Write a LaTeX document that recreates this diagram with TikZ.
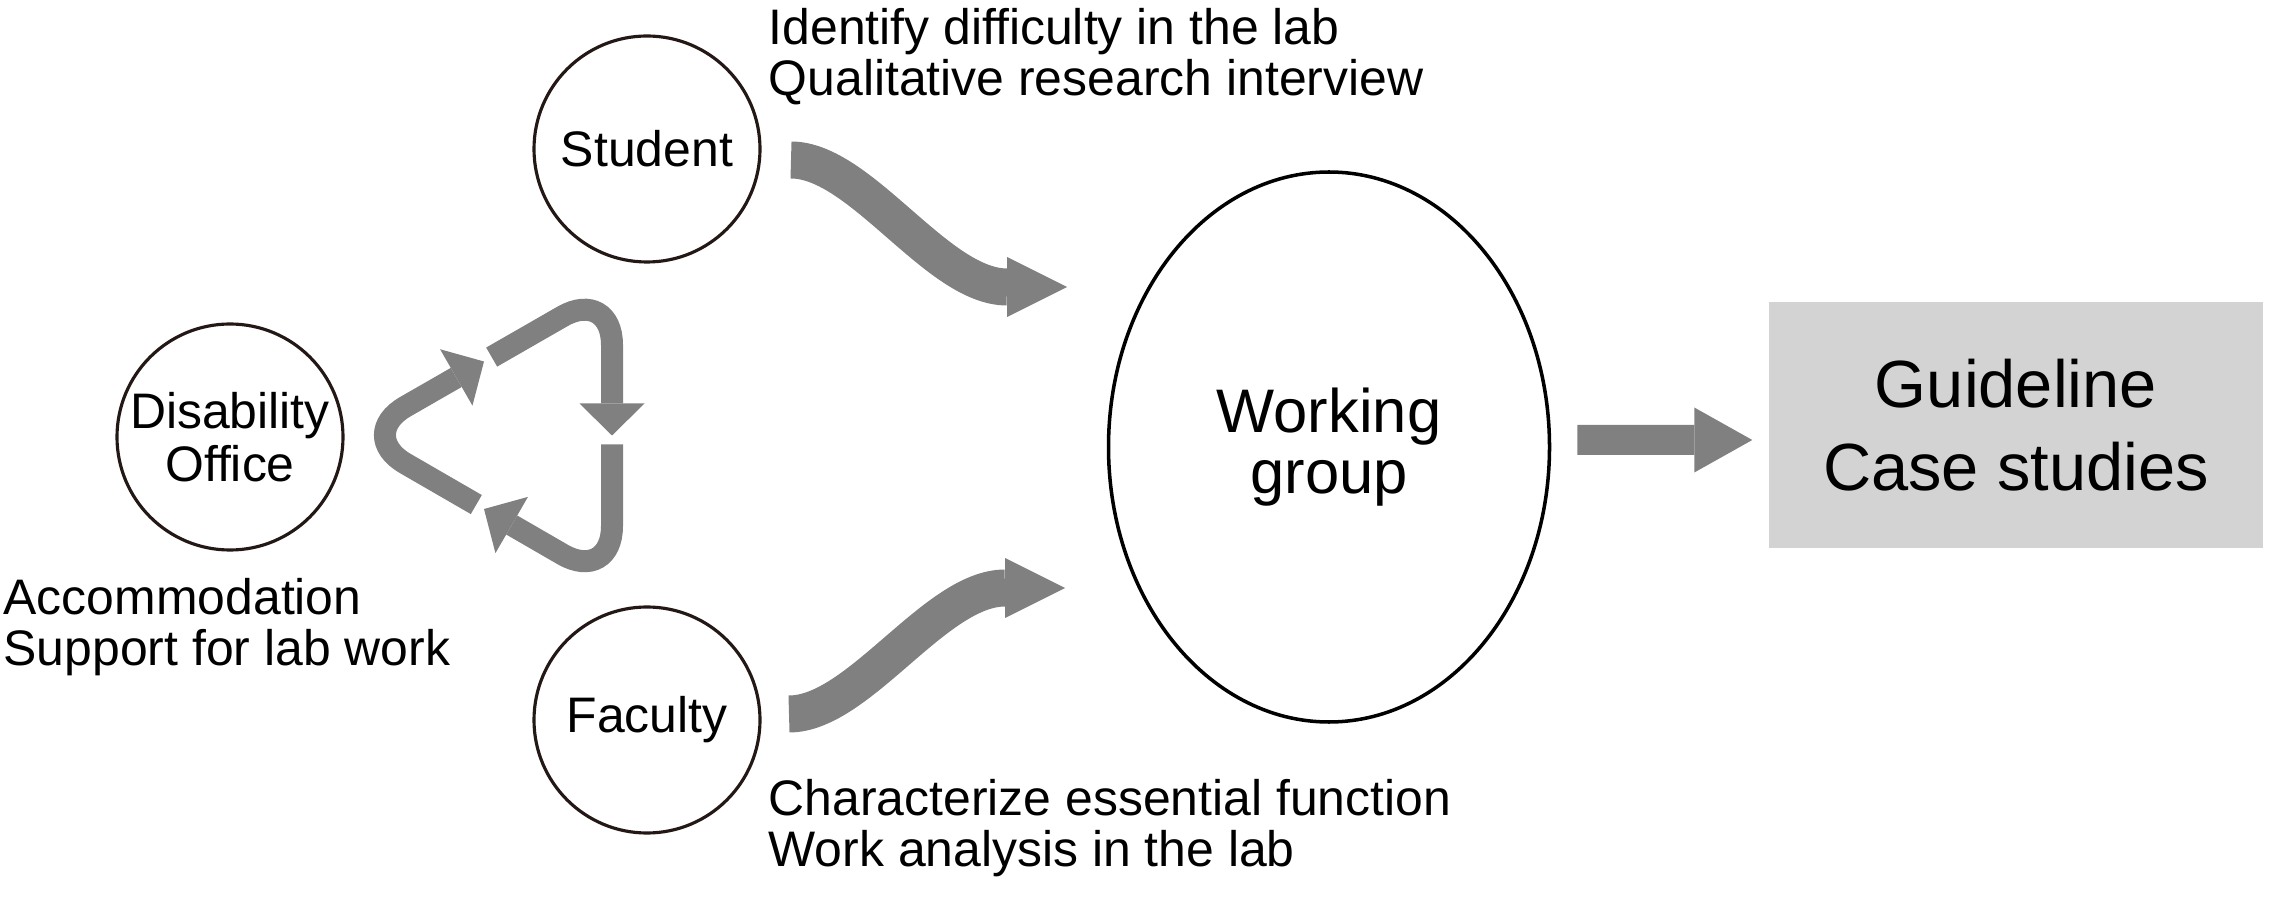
\documentclass[tikz,border=0pt]{standalone}
\usepackage{fontspec}
\setmainfont{Liberation Sans}
\usetikzlibrary{arrows.meta, calc, positioning, shapes.geometric}

\definecolor{ink}{HTML}{231815}
\definecolor{flowgray}{HTML}{808080}
\definecolor{boxgray}{HTML}{D3D3D3}

\begin{document}
\begin{tikzpicture}[on grid,
    party/.style   = {circle, draw=ink, line width=0.9pt, minimum size=2.26cm, inner sep=0pt,
                      align=center, font=\fontsize{14.2}{15.1}\selectfont},
    group/.style   = {ellipse, draw=black, line width=1pt, minimum width=4.41cm,
                      minimum height=5.5cm, align=center, font=\fontsize{17.5}{17.4}\selectfont},
    outcome/.style = {rectangle, fill=boxgray, minimum width=4.94cm, minimum height=2.46cm,
                      align=center, font=\fontsize{19}{23.6}\selectfont},
    note/.style    = {anchor=north west, inner sep=0pt, align=left,
                      font=\fontsize{14.2}{14.5}\selectfont},
    wave/.style    = {draw=flowgray, line width=0.37cm,
                      -{Triangle[length=0.6cm, width=0.6cm, line width=0pt]}},
    recycle/.style = {draw=flowgray, line width=0.22cm, rounded corners=0.57cm,
                      -{Triangle[length=0.32cm, width=0.65cm, line width=0pt]}},
    result/.style  = {draw=flowgray, line width=0.3cm,
                      -{Triangle[length=0.58cm, width=0.65cm, line width=0pt]}}]
  \useasboundingbox (0,0) rectangle (22.69,9.12);

  % Parties
  \node[party]   (student)                    at (6.47,7.63)  {Student};
  \node[party]   (faculty) [below=5.71cm of student]          {Faculty};
  \node[party]   (office)                     at (2.30,4.75)  {Disability\\Office};
  \node[group]   (wg)                         at (13.29,4.65) {Working\\group};
  \node[outcome] (guide)                      at (20.16,4.87) {Guideline\\Case studies};

  % Notes
  \node[note] (stnote) at (7.68,9.04) {Identify difficulty in the lab\\Qualitative research interview};
  \node[note] (fanote) at (7.68,1.33) {Characterize essential function\\Work analysis in the lab};
  \node[note] (ofnote) at (0.03,3.34) {Accommodation\\Support for lab work};

  % Flows into the working group
  \coordinate (st-out) at (7.91,7.52);
  \coordinate (st-in)  at (10.67,6.25);
  \coordinate (fa-out) at (7.89,1.98);
  \coordinate (fa-in)  at (10.65,3.24);
  \draw[wave] (st-out) .. controls +(0.7,0) and +(-0.7,0) .. ($(st-in)+(-0.6,0)$) -- (st-in);
  \draw[wave] (fa-out) .. controls +(0.7,0) and +(-0.7,0) .. ($(fa-in)+(-0.6,0)$) -- (fa-in);
  \draw[result] ($(wg.east)+(0.26,0.07)$) -- ($(guide.west)+(-0.16,-0.15)$);

  % Cycle between the parties
  \coordinate (t1) at (6.12,6.24);
  \coordinate (t2) at (6.12,3.29);
  \coordinate (t3) at (3.56,4.77);
  \foreach \a/\b/\c in {t3/t1/t2, t1/t2/t3, t2/t3/t1}
    \draw[recycle] ($(\a)!0.53!(\b)$) -- (\b) -- ($(\b)!0.5!(\c)$);
\end{tikzpicture}
\end{document}
